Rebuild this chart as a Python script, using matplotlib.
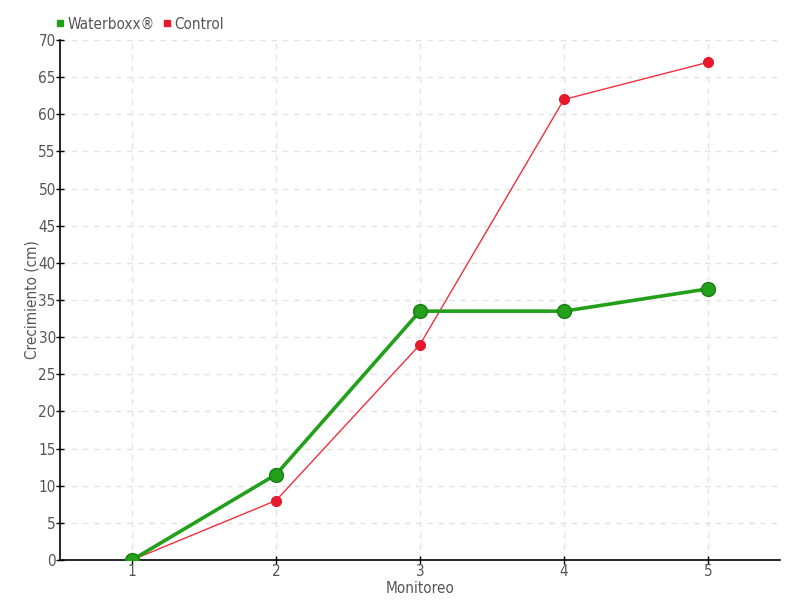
import numpy as np
import matplotlib.pyplot as plt
from matplotlib.lines import Line2D

plt.rcParams['font.family'] = ['DejaVu Sans']
plt.rcParams['font.stretch'] = 'condensed'

monitoreo = [1, 2, 3, 4, 5]
waterboxx = [0, 11.5, 33.5, 33.5, 36.5]
control = [0, 8, 29, 62, 67]

fig = plt.figure(figsize=(8, 6), dpi=100)
ax = fig.add_axes([0.075, 0.0667, 0.9, 0.8666])

ax.plot(monitoreo, control, color='#f0303c', linewidth=1, marker='o',
        markersize=7, markerfacecolor='#e8192c', markeredgecolor='#e8192c', zorder=3)
ax.plot(monitoreo, waterboxx, color='#22a01a', linewidth=2.6, marker='o',
        markersize=10, markerfacecolor='#22a01a', markeredgecolor='#1a7d14', zorder=4)

ax.set_xlim(0.5, 5.5)
ax.set_ylim(0, 70)
ax.set_xticks(monitoreo)
ax.set_yticks(np.arange(0, 71, 5))
ax.grid(True, color='#e3e3e3', linestyle=(0, (4, 4)), linewidth=1)
ax.set_axisbelow(True)

for s in ['top', 'right']:
    ax.spines[s].set_visible(False)
ax.spines['left'].set_linewidth(1.2)
ax.spines['bottom'].set_linewidth(1.2)
ax.tick_params(direction='inout', length=6, width=1, labelsize=11,
               labelcolor='#555555', pad=0)

ax.set_xlabel('Monitoreo', fontsize=11, color='#555555', labelpad=1)
ax.set_ylabel('Crecimiento (cm)', fontsize=11, color='#555555', labelpad=-1)

handles = [Line2D([], [], marker='s', linestyle='none', color='#22a01a', markersize=5),
           Line2D([], [], marker='s', linestyle='none', color='#e8192c', markersize=5)]
fig.legend(handles, ['Waterboxx®', 'Control'], loc='upper left',
           bbox_to_anchor=(0.052, 0.995), ncol=2, frameon=False, fontsize=11,
           handlelength=0.6, handletextpad=0.2, columnspacing=0.5,
           labelcolor='#555555')

fig.savefig('out.png', dpi=100, facecolor='white')
